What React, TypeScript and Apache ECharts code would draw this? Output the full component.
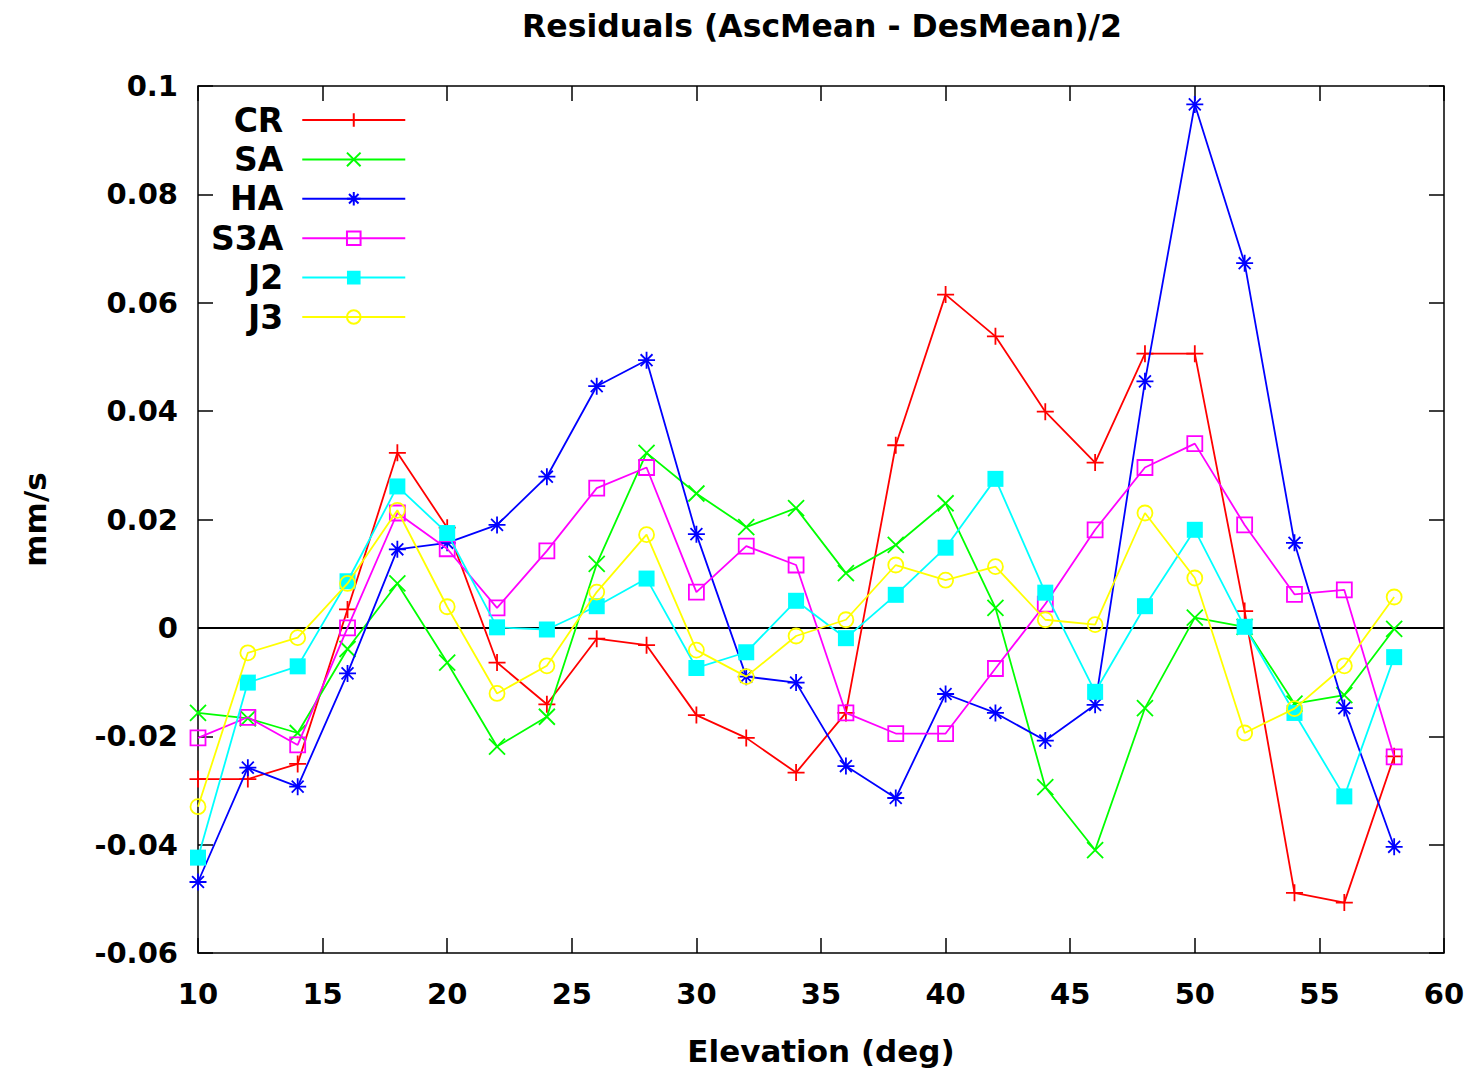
import React, { useEffect, useRef } from "react";
import * as echarts from "echarts";

const elevation = [10, 12, 14, 16, 18, 20, 22, 24, 26, 28, 30, 32, 34, 36, 38, 40, 42, 44, 46, 48, 50, 52, 54, 56, 58];

const seriesNames = ["CR", "SA", "HA", "S3A", "J2", "J3"];

const crValues = [-0.0279, -0.0279, -0.0251, 0.0034, 0.0323, 0.0185, -0.0064, -0.0141, -0.002, -0.0032, -0.0161, -0.0203, -0.0267, -0.0157, 0.0337, 0.0615, 0.0538, 0.0399, 0.0305, 0.0506, 0.0506, 0.0031, -0.0489, -0.0507, -0.0237];
const saValues = [-0.0157, -0.0167, -0.0194, -0.0039, 0.0082, -0.0064, -0.0219, -0.0164, 0.0118, 0.0323, 0.0248, 0.0186, 0.0221, 0.0101, 0.0153, 0.023, 0.0037, -0.0294, -0.041, -0.0148, 0.0019, 0.0002, -0.014, -0.0124, -0.0002];
const haValues = [-0.0469, -0.0258, -0.0293, -0.0084, 0.0145, 0.0157, 0.019, 0.0279, 0.0446, 0.0494, 0.0173, -0.009, -0.0101, -0.0255, -0.0314, -0.0122, -0.0157, -0.0208, -0.0142, 0.0455, 0.0966, 0.0673, 0.0157, -0.0148, -0.0404];
const s3aValues = [-0.0203, -0.0165, -0.0216, 0.0, 0.0212, 0.0146, 0.0037, 0.0142, 0.0258, 0.0296, 0.0066, 0.0151, 0.0116, -0.0157, -0.0195, -0.0195, -0.0075, 0.0044, 0.0181, 0.0296, 0.034, 0.019, 0.0062, 0.007, -0.0238];
const j2Values = [-0.0424, -0.0101, -0.0071, 0.0086, 0.0261, 0.0175, 0.0001, -0.0003, 0.004, 0.0091, -0.0074, -0.0045, 0.005, -0.0019, 0.0061, 0.0148, 0.0275, 0.0065, -0.0118, 0.004, 0.0181, 0.0002, -0.0157, -0.0311, -0.0054];
const j3Values = [-0.033, -0.0046, -0.0018, 0.0082, 0.0217, 0.0039, -0.0121, -0.007, 0.0066, 0.0172, -0.0041, -0.009, -0.0015, 0.0015, 0.0116, 0.0088, 0.0113, 0.0015, 0.0006, 0.0212, 0.0092, -0.0194, -0.0149, -0.007, 0.0057];

const seriesValues = [crValues, saValues, haValues, s3aValues, j2Values, j3Values];
const seriesColors = ["#ff0000", "#00ff00", "#0000ff", "#ff00ff", "#00ffff", "#ffff00"];

const PLUS = "path://M5 0L5 10M0 5L10 5";
const CROSS = "path://M0 0L10 10M0 10L10 0";
const STAR = "path://M5 0L5 10M0 5L10 5M1.5 1.5L8.5 8.5M1.5 8.5L8.5 1.5";
const OPEN_SQUARE = "path://M0 0L10 0L10 10L0 10Z";
const OPEN_CIRCLE = "path://M0 5A5 5 0 1 1 10 5A5 5 0 1 1 0 5Z";

const seriesSymbols = [PLUS, CROSS, STAR, OPEN_SQUARE, "rect", OPEN_CIRCLE];
const seriesSymbolSizes = [17, 16, 17, 15, 16, 15];
const seriesFilled = [false, false, false, false, true, false];

const FONT = "'DejaVu Sans', sans-serif";

const formatTick = (v: number) => String(parseFloat(v.toFixed(3)));

export default function App() {
  const ref = useRef<HTMLDivElement>(null);

  useEffect(() => {
    document.body.style.margin = "0";
    const chart = echarts.init(ref.current!, null, { renderer: "svg" });

    const tickStyle = { show: true, inside: true, length: 15, lineStyle: { color: "#000", width: 1.5 } };
    const labelStyle = { fontFamily: FONT, fontWeight: "bold" as const, fontSize: 29, color: "#000" };
    const noLine = { show: false, onZero: false };

    const series: any[] = seriesNames.map((name, i) => {
      const color = seriesColors[i];
      const s: any = {
        name,
        type: "line",
        data: elevation.map((x, k) => [x, seriesValues[i][k]]),
        symbol: seriesSymbols[i],
        symbolSize: seriesSymbolSizes[i],
        lineStyle: { color, width: 1.8 },
        itemStyle: seriesFilled[i]
          ? { color, borderWidth: 0 }
          : { color: "rgba(0,0,0,0)", borderColor: color, borderWidth: 1.8 },
        emphasis: { disabled: true },
        z: 3 + i,
      };
      if (i === 0) {
        s.markLine = {
          silent: true,
          symbol: "none",
          label: { show: false },
          lineStyle: { color: "#000", width: 2, type: "solid" },
          data: [{ yAxis: 0 }],
          z: 2,
        };
      }
      return s;
    });

    chart.setOption({
      animation: false,
      backgroundColor: "#ffffff",
      grid: {
        left: 198,
        right: 28,
        top: 86,
        bottom: 122,
        show: true,
        borderColor: "#000",
        borderWidth: 1.5,
      },
      graphic: [
        {
          type: "text",
          x: 822,
          y: 26,
          style: {
            text: "Residuals (AscMean - DesMean)/2",
            fontFamily: FONT,
            fontWeight: "bold",
            fontSize: 31.5,
            fill: "#000",
            align: "center",
            verticalAlign: "middle",
          },
        },
      ],
      legend: {
        orient: "vertical",
        left: 211,
        top: 102,
        align: "right",
        padding: 0,
        itemWidth: 103,
        itemHeight: 17,
        itemGap: 3.4,
        selectedMode: false,
        textStyle: {
          fontFamily: FONT,
          fontWeight: "bold",
          fontSize: 33,
          color: "#000",
          lineHeight: 36,
          padding: [0, 14, 0, 0],
        },
        data: seriesNames,
      },
      xAxis: [
        {
          type: "value",
          min: 10,
          max: 60,
          interval: 5,
          position: "bottom",
          axisLine: noLine,
          axisTick: tickStyle,
          splitLine: { show: false },
          axisLabel: { ...labelStyle, margin: 26 },
          name: "Elevation (deg)",
          nameLocation: "middle",
          nameGap: 82,
          nameTextStyle: { fontFamily: FONT, fontWeight: "bold", fontSize: 31, color: "#000" },
        },
        {
          type: "value",
          min: 10,
          max: 60,
          interval: 5,
          position: "top",
          axisLine: noLine,
          axisTick: tickStyle,
          splitLine: { show: false },
          axisLabel: { show: false },
        },
      ],
      yAxis: [
        {
          type: "value",
          min: -0.06,
          max: 0.1,
          interval: 0.02,
          position: "left",
          axisLine: noLine,
          axisTick: tickStyle,
          splitLine: { show: false },
          axisLabel: { ...labelStyle, margin: 20, formatter: formatTick },
          name: "mm/s",
          nameLocation: "middle",
          nameGap: 148,
          nameTextStyle: { fontFamily: FONT, fontWeight: "bold", fontSize: 31, color: "#000" },
        },
        {
          type: "value",
          min: -0.06,
          max: 0.1,
          interval: 0.02,
          position: "right",
          axisLine: noLine,
          axisTick: tickStyle,
          splitLine: { show: false },
          axisLabel: { show: false },
        },
      ],
      series,
    });

    return () => {
      chart.dispose();
    };
  }, []);

  return (
    <div
      ref={ref}
      style={{ position: "absolute", left: 0, top: 0, width: 1472, height: 1075 }}
    />
  );
}
